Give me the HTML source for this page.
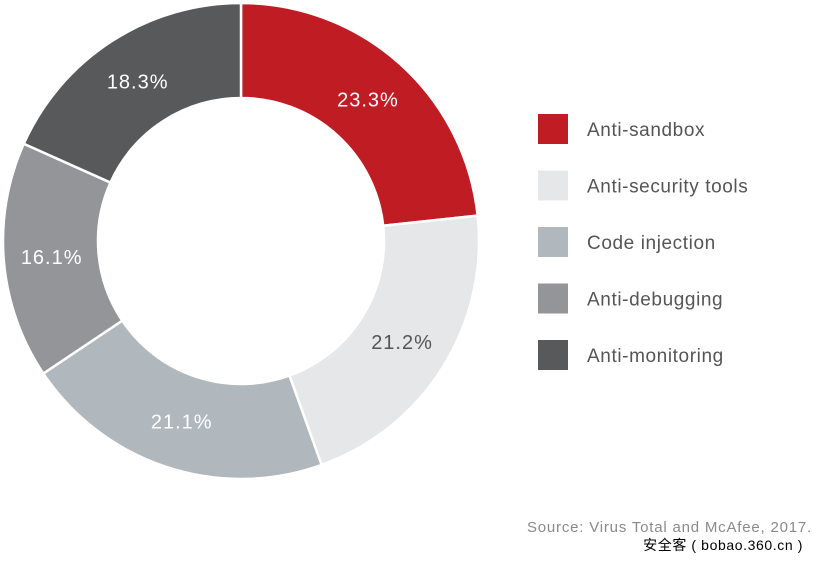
<!DOCTYPE html>
<html><head><meta charset="utf-8"><style>
body{margin:0;width:818px;height:561px;background:#fff;overflow:hidden;font-family:"Liberation Sans","Noto Sans CJK SC",sans-serif;}
svg{position:absolute;left:0;top:0}
</style></head><body>
<svg width="818" height="561">
<g id="slices"></g>
<g id="legend"></g>
<text x="812" y="532" text-anchor="end" font-size="15" letter-spacing="0.8" fill="#8a8a8a">Source: Virus Total and McAfee, 2017.</text>
<text x="803" y="550" text-anchor="end" font-size="14" letter-spacing="0.6" fill="#000">安全客 ( bobao.360.cn )</text>
</svg>
<script>
const categories=["Anti-sandbox","Anti-security tools","Code injection","Anti-debugging","Anti-monitoring"];
const values=[23.3,21.2,21.1,16.1,18.3];
const labels=["23.3%","21.2%","21.1%","16.1%","18.3%"];
const colors=["#c01c24","#e6e7e8","#b0b7bd","#939598","#58595b"];
const textColors=["#fff","#555","#fff","#fff","#fff"];
const NS="http://www.w3.org/2000/svg";
const cx=241,cy=241,R=238,r=143,LR=190;
const total=values.reduce((a,b)=>a+b,0);
const g=document.getElementById('slices');
function pt(a,rad){return [cx+rad*Math.sin(a),cy-rad*Math.cos(a)];}
let acc=0;
values.forEach((v,i)=>{
 const a0=acc/total*2*Math.PI;acc+=v;const a1=acc/total*2*Math.PI;
 const large=(a1-a0)>Math.PI?1:0;
 const p0=pt(a0,R),p1=pt(a1,R),q1=pt(a1,r),q0=pt(a0,r);
 const p=document.createElementNS(NS,'path');
 p.setAttribute('d',`M${p0}A${R},${R} 0 ${large} 1 ${p1}L${q1}A${r},${r} 0 ${large} 0 ${q0}Z`);
 p.setAttribute('fill',colors[i]);p.setAttribute('stroke','#fff');p.setAttribute('stroke-width','2.5');
 
 
 g.appendChild(p);
 const m=pt((a0+a1)/2,LR);
 const t=document.createElementNS(NS,'text');
 t.setAttribute('x',m[0]);t.setAttribute('y',m[1]+7);t.setAttribute('text-anchor','middle');
 t.setAttribute('font-size','20');t.setAttribute('letter-spacing','1');t.setAttribute('fill',textColors[i]);
 t.textContent=labels[i];
 
 
 g.appendChild(t);
});
const lg=document.getElementById('legend');
categories.forEach((c,i)=>{
 const y=114+i*56.5;
 const s=document.createElementNS(NS,'rect');
 s.setAttribute('x',538);s.setAttribute('y',y);s.setAttribute('width',30);s.setAttribute('height',30);s.setAttribute('fill',colors[i]);
 
 
 lg.appendChild(s);
 const t=document.createElementNS(NS,'text');
 t.setAttribute('x',587);t.setAttribute('y',y+22);t.setAttribute('font-size','19');t.setAttribute('letter-spacing','0.6');t.setAttribute('fill','#555');
 t.textContent=c;
 
 
 lg.appendChild(t);
});
</script>
</body></html>
